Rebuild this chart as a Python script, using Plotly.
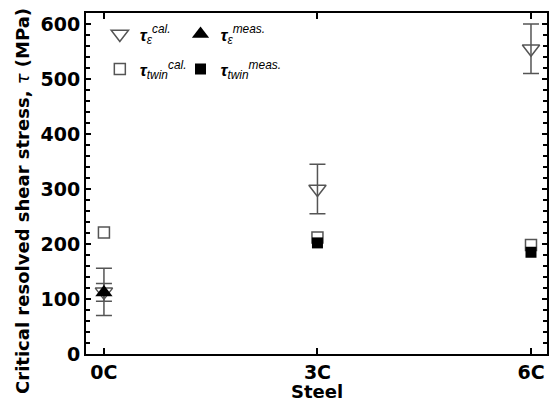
import plotly.graph_objects as go

steels = ["0C", "3C", "6C"]
tau_eps_cal = [113, 300, 555]
tau_eps_cal_err = [43, 45, 45]
tau_eps_meas = [112, None, None]
tau_eps_meas_err = [16, 0, 0]
tau_twin_cal = [221, 212, 198]
tau_twin_meas = [None, 202, 185]

xi = [0, 1, 2]
GRAY = "#555555"
BOLD = "DejaVu Sans"

fig = go.Figure()

fig.add_trace(go.Scatter(
    x=xi, y=tau_eps_cal, mode="markers", name="<i><b>τ</b><sub>ε</sub><sup>cal.</sup></i>",
    marker=dict(symbol="triangle-down-open", size=15, color=GRAY, line=dict(width=1.5, color=GRAY)),
    error_y=dict(type="data", array=tau_eps_cal_err, color=GRAY, thickness=1.5, width=8),
    legend="legend", legendgroup="a",
))
fig.add_trace(go.Scatter(
    x=xi, y=tau_twin_cal, mode="markers", name="<i><b>τ</b><sub>twin</sub><sup>cal.</sup></i>",
    marker=dict(symbol="square-open", size=11, color=GRAY, line=dict(width=1.5, color=GRAY)),
    legend="legend", legendgroup="b",
))
fig.add_trace(go.Scatter(
    x=xi, y=tau_eps_meas, mode="markers", name="<i><b>τ</b><sub>ε</sub><sup>meas.</sup></i>",
    marker=dict(symbol="triangle-up", size=15, color="black"),
    error_y=dict(type="data", array=tau_eps_meas_err, color=GRAY, thickness=1.5, width=8),
    legend="legend2", legendgroup="c",
))
fig.add_trace(go.Scatter(
    x=xi, y=tau_twin_meas, mode="markers", name="<i><b>τ</b><sub>twin</sub><sup>meas.</sup></i>",
    marker=dict(symbol="square", size=11, color="black"),
    legend="legend2", legendgroup="d",
))

legend_common = dict(
    font=dict(family="Liberation Sans", size=17, color="black"),
    bgcolor="rgba(0,0,0,0)", borderwidth=0,
    yanchor="top", xanchor="left", tracegroupgap=10,
)

fig.update_layout(
    width=551, height=404,
    margin=dict(l=86, r=2, t=13, b=50),
    paper_bgcolor="white", plot_bgcolor="white",
    showlegend=True,
    legend=dict(x=0.03, y=0.99, **legend_common),
    legend2=dict(x=0.205, y=0.99, **legend_common),
    xaxis=dict(
        range=[-0.084, 2.075], tickmode="array", tickvals=xi,
        ticktext=["<b>%s</b>" % s for s in steels],
        ticks="inside", ticklen=6, tickwidth=2, tickcolor="black",
        showline=True, linewidth=2, linecolor="black", mirror="ticks",
        showgrid=False, zeroline=False,
        tickfont=dict(family=BOLD, size=19, color="black"),
    ),
    yaxis=dict(
        range=[0, 620], tickmode="linear", tick0=0, dtick=100,
        ticks="inside", ticklen=5, tickwidth=1.5, tickcolor="black",
        minor=dict(dtick=20, ticks="inside", ticklen=4, tickwidth=1.5, tickcolor="black"),
        showline=True, linewidth=2, linecolor="black", mirror="ticks",
        showgrid=False, zeroline=False,
        tickfont=dict(family=BOLD, size=19, color="black"),
        tickprefix="<b>", ticksuffix="</b>",
    ),
    annotations=[
        dict(text="<b>Steel</b>", xref="paper", yref="paper", x=0.5, y=-0.111,
             xanchor="center", yanchor="middle", showarrow=False,
             font=dict(family=BOLD, size=18, color="black")),
        dict(text="<b>Critical resolved shear stress, </b><i>τ</i><b> (MPa)</b>",
             xref="paper", yref="paper", x=-0.138, y=0.45, textangle=-90,
             xanchor="center", yanchor="middle", showarrow=False,
             font=dict(family=BOLD, size=18, color="black")),
    ],
)

fig.write_html("out.html")
